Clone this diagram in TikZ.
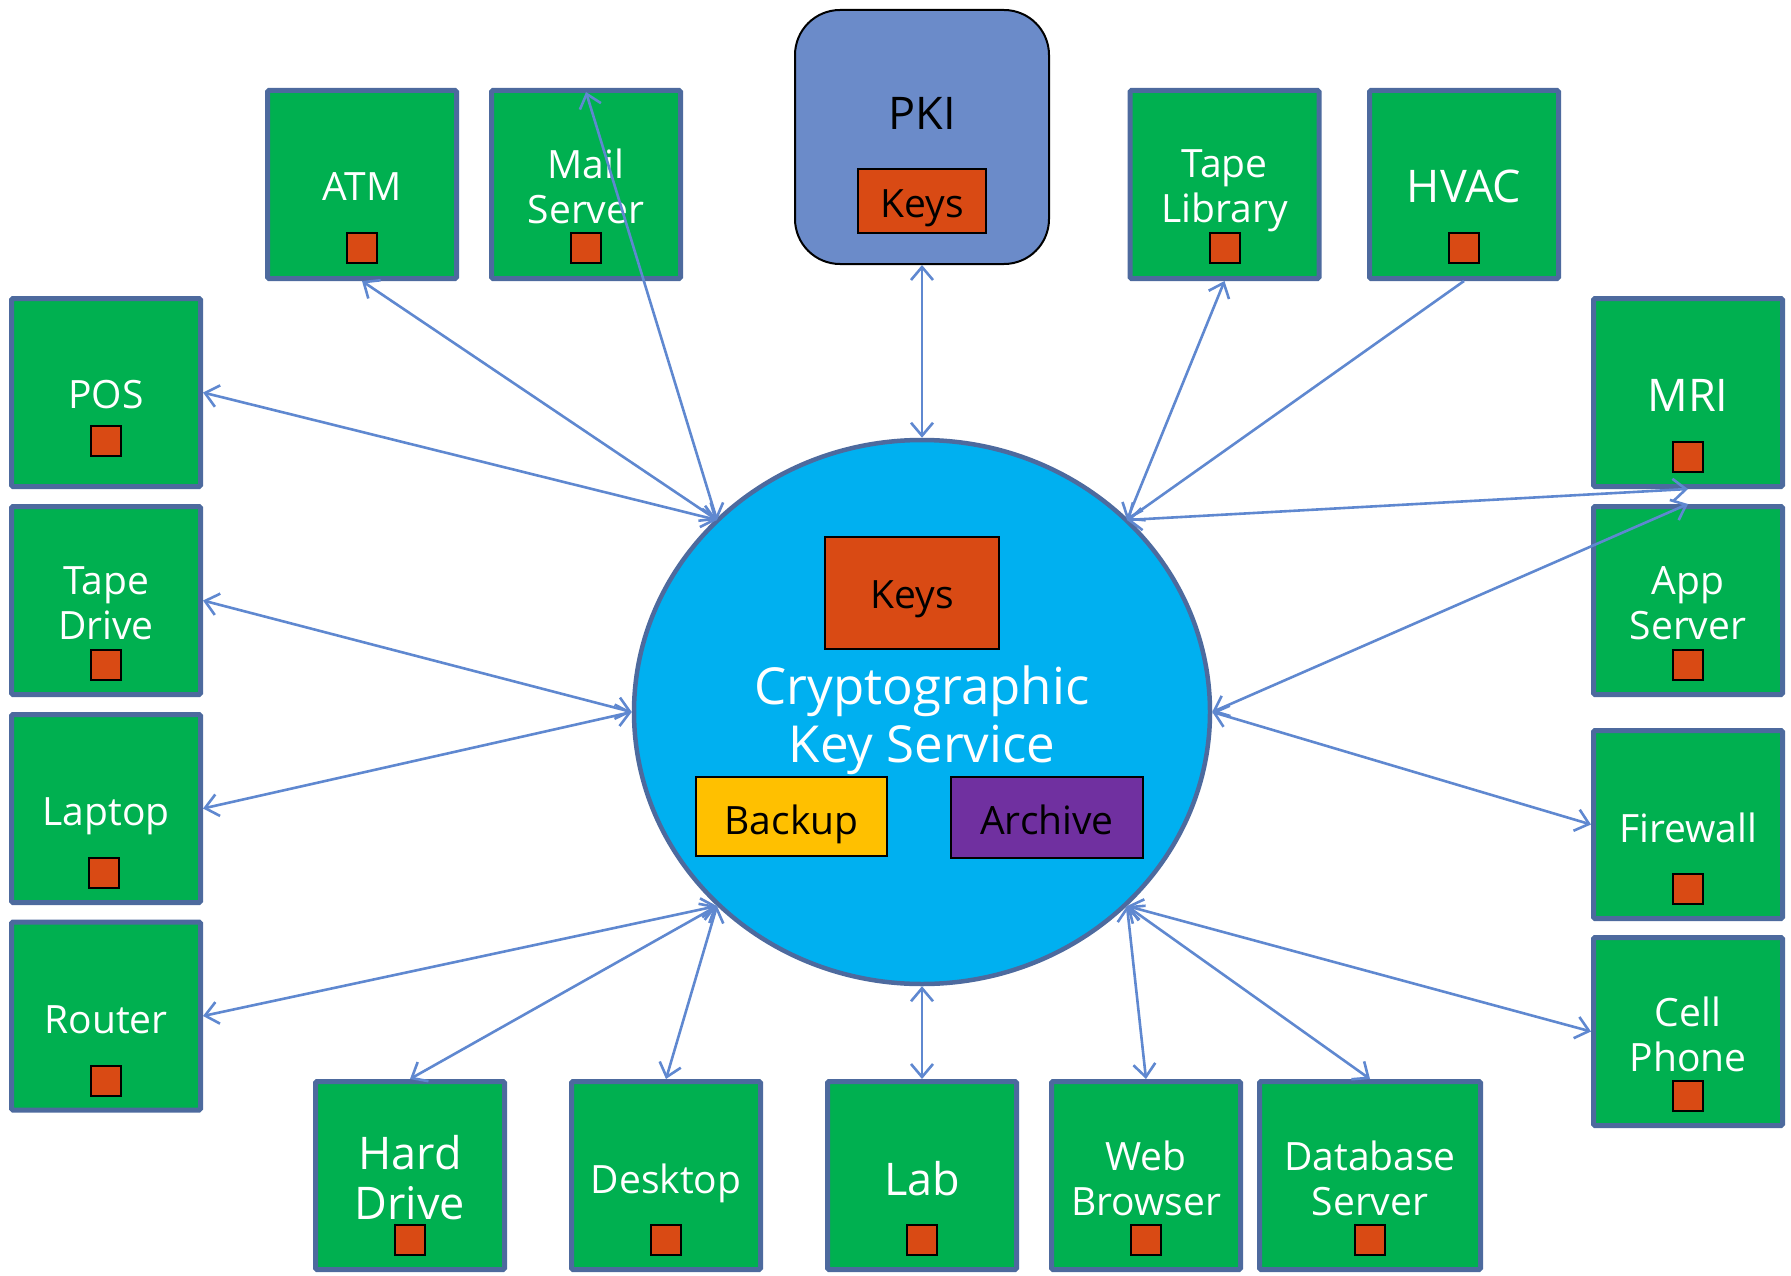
\documentclass[tikz,border=0pt]{standalone}
\usepackage{fontspec}
\setmainfont{Open Sans}
\usetikzlibrary{shapes.geometric,arrows.meta,calc}
\definecolor{devgreen}{HTML}{00B050}
\definecolor{devedge}{HTML}{4D6A9E}
\definecolor{keyred}{HTML}{D94A14}
\definecolor{svcblue}{HTML}{00B0F0}
\definecolor{pkiblue}{HTML}{6B8BC9}
\definecolor{linkblue}{HTML}{5F88D0}
\definecolor{backupyellow}{HTML}{FFC000}
\definecolor{archivepurple}{HTML}{7030A0}
\tikzset{
  device/.style={draw=devedge, fill=devgreen, line width=5pt, inner sep=0pt,
    rounded corners=1.5pt, minimum width=189pt, minimum height=188pt},
  devlabel/.style={text=white, align=center, inner sep=0pt,
    font=\fontsize{39}{45}\selectfont},
  biglabel/.style={devlabel, font=\fontsize{45}{50}\selectfont},
  keychip/.style={draw=black, fill=keyred, line width=2pt, inner sep=0pt,
    minimum width=30pt, minimum height=30pt},
  store/.style={draw=black, line width=2pt, inner sep=0pt,
    font=\fontsize{39}{45}\selectfont},
  link/.style={draw=linkblue, line width=2.6pt,
    {Straight Barb[length=13pt,width=22pt]}-{Straight Barb[length=13pt,width=22pt]}},
  onelink/.style={draw=linkblue, line width=2.6pt, -{Straight Barb[length=13pt,width=22pt]}},
}
\begin{document}
\begin{tikzpicture}[x=1pt,y=-1pt]
\useasboundingbox (0,0) rectangle (1791,1276);

% central key service
\node[ellipse, draw=devedge, fill=svcblue, line width=4.5pt, inner sep=0pt,
  minimum width=576pt, minimum height=544pt] (cks) at (922,712) {};
\node[store, fill=keyred, minimum width=174pt, minimum height=112pt] (ckeys) at (912,593) {};
\node[inner sep=0pt, font=\fontsize{39}{45}\selectfont] (ckeystext) at (912,599) {Keys};
\node[text=white, align=center, inner sep=0pt, font=\fontsize{51}{58}\selectfont]
  (cksname) at (922,720) {Cryptographic\\Key Service};
\node[store, fill=backupyellow, minimum width=191pt, minimum height=79pt] (backup) at (791.5,816.5) {};
\node[inner sep=0pt, font=\fontsize{39}{45}\selectfont] (backuptext) at (791.5,824) {Backup};
\node[store, fill=archivepurple, minimum width=192pt, minimum height=81pt] (archive) at (1047,817.5) {};
\node[inner sep=0pt, font=\fontsize{39}{45}\selectfont] (archivetext) at (1047,820) {Archive};

% PKI
\node[draw=black, fill=pkiblue, line width=2pt, rounded corners=45pt, inner sep=0pt,
  minimum width=254pt, minimum height=254pt] (pki) at (922,137) {};
\node[inner sep=0pt, font=\fontsize{45}{50}\selectfont] (pkiname) at (922,113) {PKI};
\node[store, fill=keyred, minimum width=128pt, minimum height=64pt] (pkikeys) at (922,201) {};
\node[inner sep=0pt, font=\fontsize{39}{45}\selectfont] (pkikeystext) at (922,208) {Keys};

% top row
\node[device] (atm) at (362,184.5) {};
\node[devlabel] (atmname) at (362,187) {ATM};
\node[keychip] (atmkey) at (362,248) {};

\node[device] (mail) at (586,184.5) {};
\node[devlabel] (mailname) at (586,186) {Mail\\Server};
\node[keychip] (mailkey) at (586,248) {};

\node[device] (tapelib) at (1224.5,184.5) {};
\node[devlabel] (tapelibname) at (1224.5,191) {Tape\\Library};
\node[keychip] (tapelibkey) at (1224.5,248) {};

\node[device] (hvac) at (1464,184.5) {};
\node[biglabel] (hvacname) at (1464,186) {HVAC};
\node[keychip] (hvackey) at (1464,248) {};

% left column
\node[device] (pos) at (106,392.5) {};
\node[devlabel] (posname) at (106,395) {POS};
\node[keychip] (poskey) at (106,441) {};

\node[device] (tapedrive) at (106,600.5) {};
\node[devlabel] (tapedrivename) at (106,603) {Tape\\Drive};
\node[keychip] (tapedrivekey) at (106,665) {};

\node[device] (laptop) at (106,808.5) {};
\node[devlabel] (laptopname) at (106,816) {Laptop};
\node[keychip] (laptopkey) at (104,873) {};

\node[device] (router) at (106,1016) {};
\node[devlabel] (routername) at (106,1020) {Router};
\node[keychip] (routerkey) at (106,1081) {};

% right column
\node[device] (mri) at (1688,392.5) {};
\node[biglabel] (mriname) at (1688,395) {MRI};
\node[keychip] (mrikey) at (1688,457) {};

\node[device] (app) at (1688,600.5) {};
\node[devlabel] (appname) at (1688,603) {App\\Server};
\node[keychip] (appkey) at (1688,665) {};

\node[device] (firewall) at (1688,824.5) {};
\node[devlabel] (firewallname) at (1688,828) {Firewall};
\node[keychip] (firewallkey) at (1688,889) {};

\node[device] (cell) at (1688,1031.5) {};
\node[devlabel] (cellname) at (1688,1034) {Cell\\Phone};
\node[keychip] (cellkey) at (1688,1096) {};

% bottom row
\node[device] (hdd) at (410,1175.5) {};
\node[biglabel] (hddname) at (410,1178) {Hard\\Drive};
\node[keychip] (hddkey) at (410,1240) {};

\node[device] (desktop) at (666,1175.5) {};
\node[devlabel] (desktopname) at (666,1183) {Desktop};
\node[keychip] (desktopkey) at (666,1240) {};

\node[device] (lab) at (922,1175.5) {};
\node[biglabel] (labname) at (922,1179) {Lab};
\node[keychip] (labkey) at (922,1240) {};

\node[device] (web) at (1146,1175.5) {};
\node[devlabel] (webname) at (1146,1178) {Web\\Browser};
\node[keychip] (webkey) at (1146,1240) {};

\node[device, minimum width=221pt] (db) at (1370,1175.5) {};
\node[devlabel] (dbname) at (1370,1178) {Database\\Server};
\node[keychip] (dbkey) at (1370,1240) {};

% connection points on the service
\coordinate (ul) at (717,520);
\coordinate (ur) at (1127,520);
\coordinate (ll) at (717,906);
\coordinate (lr) at (1127,906);
\coordinate (mailtip) at (586,92);

% links
\draw[link] (pki.south) -- (cks.north);
\draw[link] (atm.south) -- (ul);
\draw[link] (mailtip) -- (ul);
\draw[link] (pos.east) -- (ul);
\draw[link] (tapedrive.east) -- (cks.west);
\draw[link] (laptop.east) -- (cks.west);
\draw[link] (router.east) -- (ll);
\draw[link] (hdd.north) -- (ll);
\draw[link] (desktop.north) -- (ll);
\draw[link] (lab.north) -- (cks.south);
\draw[link] (web.north) -- (lr);
\draw[link] (db.north) -- (lr);
\draw[link] (cell.west) -- (lr);
\draw[link] (firewall.west) -- (cks.east);
\draw[link] (app.north) -- (cks.east);
\draw[link] (mri.south) -- (ur);
\draw[onelink] (hvac.south) -- (ur);
\draw[link] (tapelib.south) -- (ur);
\end{tikzpicture}
\end{document}
